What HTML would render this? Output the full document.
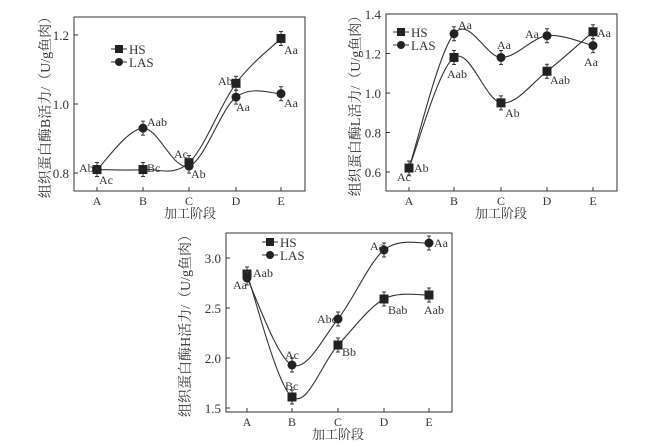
<!DOCTYPE html>
<html><head><meta charset="utf-8"><style>
body{margin:0;background:#fff;}
svg{display:block;font-family:"Liberation Serif","Noto Serif CJK SC",serif;}
</style></head><body>
<svg id="s" width="664" height="446" viewBox="0 0 664 446" xmlns="http://www.w3.org/2000/svg"></svg>
<script>
const S=document.getElementById('s');let h='';
function chart(c){
 const {l,r,t,b,xs,y0,v0,pp,ticks,hs,las,yl,xlc,ylx,labels,legx,legy}=c;
 const Y=v=>y0-(v-v0)*pp;
 h+=`<rect x="${l}" y="${t}" width="${r-l}" height="${b-t}" fill="none" stroke="#333" stroke-width="1"/>`;
 ticks.forEach(v=>{const y=Y(v);h+=`<line x1="${l}" y1="${y}" x2="${l+4}" y2="${y}" stroke="#333"/><text x="${l-5}" y="${y+5}" font-size="13" text-anchor="end" fill="#333">${v.toFixed(1)}</text>`;});
 'ABCDE'.split('').forEach((L,i)=>{h+=`<line x1="${xs[i]}" y1="${b}" x2="${xs[i]}" y2="${b-4}" stroke="#333"/><text x="${xs[i]}" y="${b+14}" font-size="12" text-anchor="middle" fill="#333">${L}</text>`;});
 h+=`<text x="${xlc}" y="${b+27}" font-size="13" text-anchor="middle" fill="#333">加工阶段</text>`;
 h+=`<text transform="translate(${ylx},${(t+b)/2}) rotate(-90)" font-size="14" text-anchor="middle" fill="#333">${yl}</text>`;
 [hs,las].forEach((d,k)=>{
  const p=d.map((v,i)=>[xs[i],Y(v)]);
  let s=`M${p[0][0]},${p[0][1]}`;
  for(let i=0;i<p.length-1;i++){const p0=p[Math.max(i-1,0)],p1=p[i],p2=p[i+1],p3=p[Math.min(i+2,p.length-1)];
   s+=` C${p1[0]+(p2[0]-p0[0])/6},${p1[1]+(p2[1]-p0[1])/6} ${p2[0]-(p3[0]-p1[0])/6},${p2[1]-(p3[1]-p1[1])/6} ${p2[0]},${p2[1]}`;}
  h+=`<path d="${s}" fill="none" stroke="#333" stroke-width="1.1"/>`;
  p.forEach(q=>{h+=`<line x1="${q[0]}" y1="${q[1]-7}" x2="${q[0]}" y2="${q[1]+7}" stroke="#333"/><line x1="${q[0]-2}" y1="${q[1]-7}" x2="${q[0]+2}" y2="${q[1]-7}" stroke="#333"/><line x1="${q[0]-2}" y1="${q[1]+7}" x2="${q[0]+2}" y2="${q[1]+7}" stroke="#333"/>`;
   h+=k==0?`<rect x="${q[0]-4.5}" y="${q[1]-4.5}" width="9" height="9" fill="#222"/>`:`<circle cx="${q[0]}" cy="${q[1]}" r="4.5" fill="#222"/>`;});
 });
 h+=`<line x1="${legx}" y1="${legy}" x2="${legx+16}" y2="${legy}" stroke="#333"/><rect x="${legx+4}" y="${legy-4}" width="8" height="8" fill="#222"/><text x="${legx+18}" y="${legy+5}" font-size="13" fill="#333">HS</text>`;
 h+=`<line x1="${legx}" y1="${legy+13}" x2="${legx+16}" y2="${legy+13}" stroke="#333"/><circle cx="${legx+8}" cy="${legy+13}" r="4" fill="#222"/><text x="${legx+18}" y="${legy+18}" font-size="13" fill="#333">LAS</text>`;
 labels.forEach(a=>{h+=`<text x="${a[0]}" y="${a[1]}" font-size="12" fill="#333">${a[2]}</text>`;});
}
chart({l:74,r:305,t:17,b:191,xs:[97,143,189,236,281],y0:173,v0:0.8,pp:345,ticks:[0.8,1.0,1.2],
 hs:[0.81,0.81,0.83,1.06,1.19],las:[0.81,0.93,0.82,1.02,1.03],yl:"组织蛋白酶B活力/（U/g鱼肉）",xlc:190,ylx:50,legx:111,legy:49,
 labels:[[79,172,"Ab"],[99,184,"Ac"],[147,172,"Bc"],[147,126,"Aab"],[174,158,"Ac"],[191,178,"Ab"],[218,85,"Ab"],[236,111,"Aa"],[284,54,"Aa"],[284,107,"Aa"]]});
chart({l:386,r:617,t:14,b:191,xs:[409,454,501,547,593],y0:172,v0:0.6,pp:197.5,ticks:[0.6,0.8,1.0,1.2,1.4],
 hs:[0.62,1.18,0.95,1.11,1.31],las:[0.62,1.30,1.18,1.29,1.24],yl:"组织蛋白酶L活力/（U/g鱼肉）",xlc:501,ylx:360,legx:393,legy:32,
 labels:[[397,181,"Ac"],[414,172,"Ab"],[458,29,"Aa"],[447,78,"Aab"],[497,49,"Aa"],[505,117,"Ab"],[525,38,"Aa"],[550,84,"Aab"],[597,37,"Aa"],[584,66,"Aa"]]});
chart({l:226,r:452,t:233,b:412,xs:[247,292,338,384,429],y0:408,v0:1.5,pp:100,ticks:[1.5,2.0,2.5,3.0],
 hs:[2.84,1.61,2.13,2.59,2.63],las:[2.80,1.93,2.39,3.08,3.15],yl:"组织蛋白酶H活力/（U/g鱼肉）",xlc:338,ylx:190,legx:262,legy:242,
 labels:[[233,289,"Aa"],[253,277,"Aab"],[285,359,"Ac"],[285,390,"Bc"],[317,323,"Abc"],[342,356,"Bb"],[370,250,"Aa"],[388,314,"Bab"],[424,314,"Aab"],[434,247,"Aa"]]});
S.innerHTML=h;
</script>
</body></html>
